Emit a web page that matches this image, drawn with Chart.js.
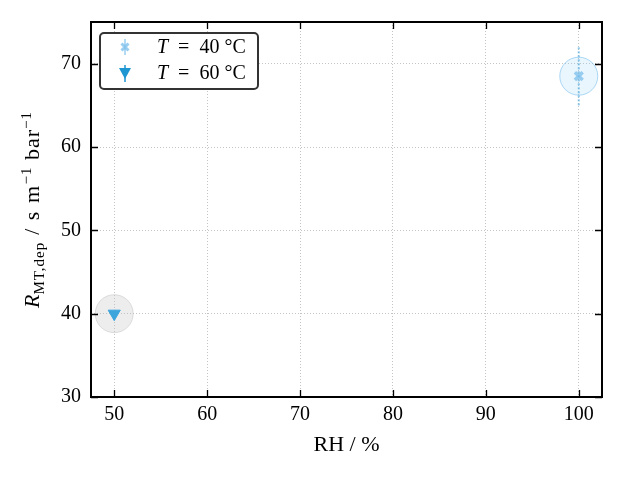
<!DOCTYPE html>
<html>
<head>
<meta charset="utf-8">
<script src="https://cdn.jsdelivr.net/npm/chart.js@4"></script>
<style>
  body { margin: 0; background: #fff; }
  #wrap { width: 623px; height: 479px; }
</style>
</head>
<body>
<div id="wrap"><canvas id="chart"></canvas></div>
<script>
// values
const rh40 = [100];
const r40 = [68.5];
const err40 = [3.5];
const rh60 = [50];
const r60 = [40];
const xTicks = [50, 60, 70, 80, 90, 100];
const yTicks = [30, 40, 50, 60, 70];
const legendLabels = ['40 °C', '60 °C'];

const serif = "'Liberation Serif', 'DejaVu Serif', serif";
const c40 = 'rgba(120,190,235,0.75)';
const c60 = 'rgb(60,165,220)';

function pts(xs, ys) {
    return xs.map((x, i) => ({ x: x, y: ys[i] }));
}

// inward ticks on all four sides, frame, y title and legend
const frame = {
    id: 'frame',
    afterDraw(chart) {
        const ctx = chart.ctx;
        const a = chart.chartArea;
        const xs = chart.scales.x, ys = chart.scales.y;
        ctx.save();
        ctx.strokeStyle = '#000';
        ctx.lineWidth = 1.3;
        ctx.beginPath();
        for (let v of xTicks) {
            const px = Math.round(xs.getPixelForValue(v)) + 0.5;
            ctx.moveTo(px, a.bottom); ctx.lineTo(px, a.bottom - 7);
            ctx.moveTo(px, a.top); ctx.lineTo(px, a.top + 7);
        }
        for (let v of yTicks) {
            const py = Math.round(ys.getPixelForValue(v)) + 0.5;
            ctx.moveTo(a.left, py); ctx.lineTo(a.left + 7, py);
            ctx.moveTo(a.right, py); ctx.lineTo(a.right - 7, py);
        }
        ctx.stroke();
        ctx.lineWidth = 2;
        ctx.strokeRect(a.left, a.top, a.right - a.left, a.bottom - a.top);

        // y axis title with sub/superscripts
        const parts = [
            { t: 'R', s: 22, it: true, dy: 0, ls: 0 },
            { t: 'MT,dep', s: 15, it: false, dy: 5, ls: 1 },
            { t: ' / s m', s: 22, it: false, dy: 0, ls: 1.5 },
            { t: '−1', s: 15, it: false, dy: -8, ls: 1 },
            { t: ' bar', s: 22, it: false, dy: 0, ls: 1 },
            { t: '−1', s: 15, it: false, dy: -8, ls: 1 }
        ];
        let w = 0;
        for (let p of parts) {
            ctx.font = (p.it ? 'italic ' : '') + p.s + 'px ' + serif;
            ctx.letterSpacing = p.ls + 'px';
            p.w = ctx.measureText(p.t).width;
            w += p.w;
        }
        ctx.translate(33, (a.top + a.bottom) / 2);
        ctx.rotate(-Math.PI / 2);
        ctx.fillStyle = '#000';
        ctx.textBaseline = 'alphabetic';
        let x = -w / 2;
        for (let p of parts) {
            ctx.font = (p.it ? 'italic ' : '') + p.s + 'px ' + serif;
            ctx.letterSpacing = p.ls + 'px';
            ctx.fillText(p.t, x, 6 + p.dy);
            x += p.w;
        }
        ctx.restore();

        // legend box inside the plot
        ctx.save();
        const lx = a.left + 9, ly = a.top + 11, lw = 158, lh = 56;
        ctx.beginPath();
        ctx.roundRect(lx, ly, lw, lh, 4);
        ctx.fillStyle = '#fff';
        ctx.fill();
        ctx.strokeStyle = '#333';
        ctx.lineWidth = 2;
        ctx.stroke();
        const mx = lx + 25;
        // row 1 marker: x with error bar
        let my = ly + 14;
        ctx.strokeStyle = c40;
        ctx.lineWidth = 1.5;
        ctx.beginPath(); ctx.moveTo(mx, my - 8); ctx.lineTo(mx, my + 8); ctx.stroke();
        ctx.lineWidth = 3;
        ctx.beginPath();
        ctx.moveTo(mx - 3.5, my - 3.5); ctx.lineTo(mx + 3.5, my + 3.5);
        ctx.moveTo(mx + 3.5, my - 3.5); ctx.lineTo(mx - 3.5, my + 3.5);
        ctx.stroke();
        // row 2 marker: triangle down with stem
        my = ly + 40;
        ctx.strokeStyle = 'rgb(30,150,210)';
        ctx.fillStyle = 'rgb(30,150,210)';
        ctx.lineWidth = 1.5;
        ctx.beginPath(); ctx.moveTo(mx, my - 8); ctx.lineTo(mx, my + 9); ctx.stroke();
        ctx.beginPath();
        ctx.moveTo(mx - 6, my - 5); ctx.lineTo(mx + 6, my - 5); ctx.lineTo(mx, my + 6);
        ctx.closePath(); ctx.fill();
        // text
        ctx.fillStyle = '#000';
        ctx.textBaseline = 'middle';
        legendLabels.forEach((lab, i) => {
            const ty = ly + 15 + i * 26;
            let tx = lx + 57;
            ctx.font = 'italic 20px ' + serif;
            ctx.fillText('T', tx, ty);
            tx += ctx.measureText('T').width;
            ctx.font = '20px ' + serif;
            ctx.fillText('\u2002=\u2002' + lab, tx, ty);
        });
        ctx.restore();
    }
};

new Chart(document.getElementById('chart'), {
    type: 'scatter',
    data: {
        datasets: [
            {
                label: 'T = 40 °C',
                data: pts(rh40, r40),
                pointStyle: 'crossRot',
                pointRadius: 5.5,
                borderColor: c40,
                borderWidth: 3.5,
                order: 0
            },
            {
                label: 'T = 60 °C',
                data: pts(rh60, r60),
                pointStyle: 'triangle',
                rotation: 180,
                pointRadius: 7,
                backgroundColor: c60,
                borderColor: c60,
                borderWidth: 1,
                order: 0
            },
            {
                label: 'err40',
                type: 'line',
                data: rh40.flatMap((x, i) => [{ x: x, y: r40[i] - err40[i] }, { x: x, y: r40[i] + err40[i] }]),
                borderColor: 'rgba(90,175,225,0.7)',
                borderWidth: 2,
                borderDash: [2, 2],
                pointRadius: 0,
                showLine: true,
                order: 1
            },
            {
                label: 'halo40',
                data: pts(rh40, r40),
                pointRadius: 19,
                backgroundColor: 'rgba(140,205,245,0.18)',
                borderColor: 'rgba(110,185,235,0.55)',
                borderWidth: 1,
                order: 2
            },
            {
                label: 'halo60',
                data: pts(rh60, r60),
                pointRadius: 19,
                backgroundColor: 'rgba(190,190,190,0.28)',
                borderColor: 'rgba(180,180,180,0.4)',
                borderWidth: 1,
                order: 2
            }
        ]
    },
    options: {
        responsive: true,
        maintainAspectRatio: false,
        animation: false,
        layout: { padding: { left: 0, right: 21, top: 21, bottom: 0 } },
        plugins: { legend: { display: false }, tooltip: { enabled: false } },
        scales: {
            x: {
                type: 'linear',
                min: 47.5,
                max: 102.5,
                afterBuildTicks: s => { s.ticks = xTicks.map(v => ({ value: v })); },
                afterFit: s => { s.height = 82; },
                grid: { color: '#b5b5b5', lineWidth: 0.8, drawTicks: false },
                border: { display: false, dash: [1, 2] },
                ticks: { color: '#000', padding: 6, font: { family: serif, size: 20 } },
                title: { display: true, text: 'RH / %', color: '#000', font: { family: serif, size: 22 }, padding: { top: 0, bottom: 21 } }
            },
            y: {
                type: 'linear',
                min: 30,
                max: 75,
                afterBuildTicks: s => { s.ticks = yTicks.map(v => ({ value: v })); },
                afterFit: s => { s.width = 91; },
                grid: { color: '#b5b5b5', lineWidth: 0.8, drawTicks: false },
                border: { display: false, dash: [1, 2] },
                ticks: { color: '#000', padding: 10, font: { family: serif, size: 20 } }
            }
        }
    },
    plugins: [frame]
});
</script>
</body>
</html>
